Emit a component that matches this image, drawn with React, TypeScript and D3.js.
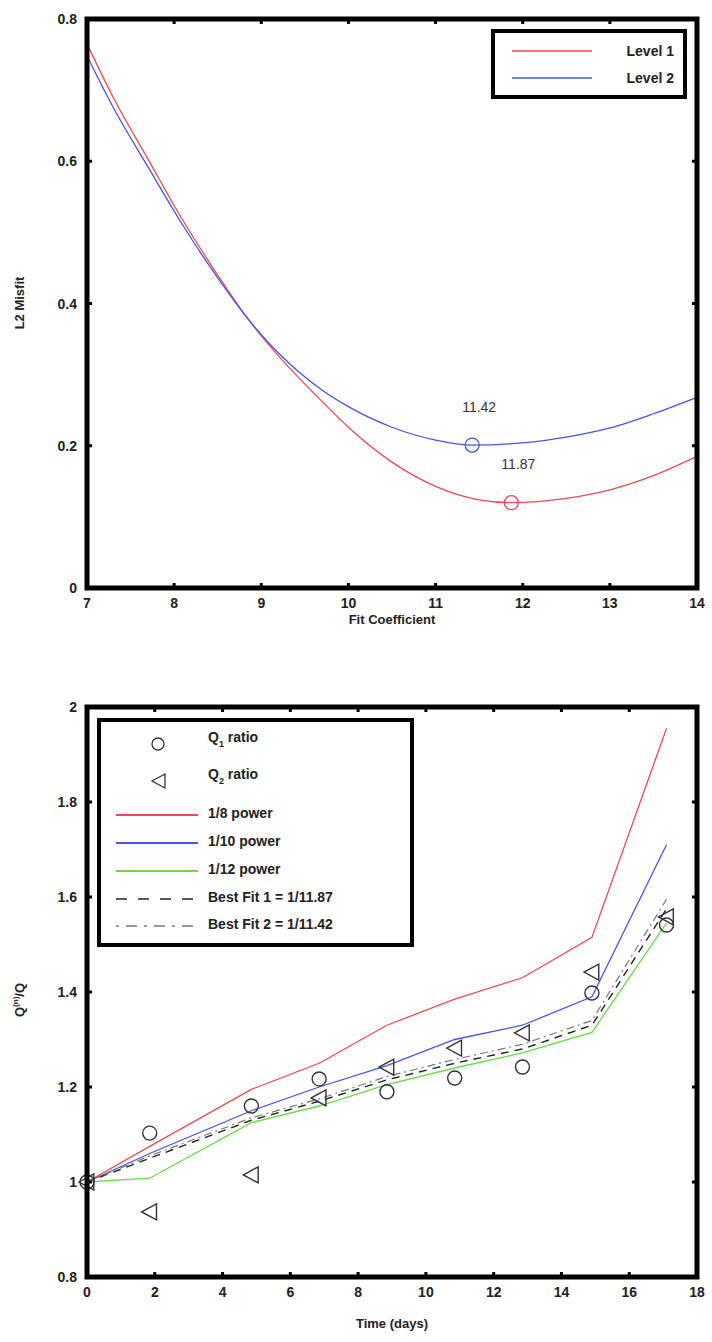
import React, { useEffect, useRef } from 'react';
import * as d3 from 'd3';

// ---- top chart data: L2 misfit vs fit coefficient ----
const coefLevel1 = [7, 7.3, 7.7, 8.1, 8.5, 8.85, 9.2, 9.7, 10, 10.5, 11, 11.5, 11.87, 12.5, 13, 13.5, 14];
const misfitLevel1 = [0.765, 0.69, 0.603, 0.517, 0.44, 0.378, 0.326, 0.262, 0.226, 0.177, 0.143, 0.124, 0.12, 0.126, 0.138, 0.158, 0.185];
const coefLevel2 = [7, 7.3, 7.7, 8.1, 8.5, 8.85, 9.2, 9.7, 10, 10.5, 11, 11.42, 12, 12.5, 13, 13.5, 14];
const misfitLevel2 = [0.748, 0.676, 0.592, 0.51, 0.436, 0.378, 0.33, 0.278, 0.255, 0.226, 0.208, 0.201, 0.204, 0.212, 0.225, 0.245, 0.268];
const minima = [
  { coef: 11.42, misfit: 0.201, label: '11.42', color: '#4455e8' },
  { coef: 11.87, misfit: 0.12, label: '11.87', color: '#ee4a4f' },
];
const topXTicks = [7, 8, 9, 10, 11, 12, 13, 14];
const topYTicks = [0, 0.2, 0.4, 0.6, 0.8];

// ---- bottom chart data: ratio vs time ----
const days = [0, 1.85, 4.85, 6.85, 8.85, 10.85, 12.85, 14.9, 17.1];
const q1Ratio = [1.0, 1.103, 1.16, 1.217, 1.19, 1.219, 1.242, 1.398, 1.541];
const q2Ratio = [1.0, 0.937, 1.015, 1.177, 1.242, 1.282, 1.314, 1.442, 1.558];
const power8 = [1.0, 1.075, 1.195, 1.25, 1.33, 1.385, 1.43, 1.515, 1.955];
const power10 = [1.0, 1.06, 1.15, 1.2, 1.245, 1.3, 1.33, 1.39, 1.71];
const power12 = [1.0, 1.008, 1.125, 1.16, 1.205, 1.24, 1.272, 1.315, 1.545];
const bestFit1 = [1.0, 1.05, 1.13, 1.17, 1.215, 1.25, 1.28, 1.33, 1.575];
const bestFit2 = [1.0, 1.055, 1.135, 1.175, 1.222, 1.258, 1.29, 1.34, 1.595];
const botXTicks = [0, 2, 4, 6, 8, 10, 12, 14, 16, 18];
const botYTicks = [0.8, 1, 1.2, 1.4, 1.6, 1.8, 2];

const RED = '#ee4a4f';
const BLUE = '#4455e8';
const GREEN = '#66dd44';
const FONT = '"Liberation Sans", Arial, sans-serif';

const App = () => {
  const svgRef = useRef<SVGSVGElement>(null);

  useEffect(() => {
    const svg = d3.select(svgRef.current);
    svg.selectAll('*').remove();

    const drawFrame = (g, x, y, xTicks, yTicks, fmtY) => {
      const [x0, x1] = x.range();
      const [y0, y1] = y.range();
      // tick marks (inside, all four sides)
      xTicks.forEach(t => {
        g.append('line').attr('x1', x(t)).attr('x2', x(t)).attr('y1', y0).attr('y2', y0 - 5)
          .attr('stroke', '#000').attr('stroke-width', 3);
        g.append('line').attr('x1', x(t)).attr('x2', x(t)).attr('y1', y1).attr('y2', y1 + 5)
          .attr('stroke', '#000').attr('stroke-width', 3);
        g.append('text').attr('x', x(t)).attr('y', y0 + 20).attr('text-anchor', 'middle')
          .attr('font-family', FONT).attr('font-weight', 'bold').attr('font-size', 14).attr('fill', '#222')
          .text(t);
      });
      yTicks.forEach(t => {
        g.append('line').attr('x1', x0).attr('x2', x0 + 5).attr('y1', y(t)).attr('y2', y(t))
          .attr('stroke', '#000').attr('stroke-width', 3);
        g.append('line').attr('x1', x1).attr('x2', x1 - 5).attr('y1', y(t)).attr('y2', y(t))
          .attr('stroke', '#000').attr('stroke-width', 3);
        g.append('text').attr('x', x0 - 10).attr('y', y(t) + 5).attr('text-anchor', 'end')
          .attr('font-family', FONT).attr('font-weight', 'bold').attr('font-size', 14).attr('fill', '#222')
          .text(fmtY(t));
      });
      g.append('rect').attr('x', x0).attr('y', y1).attr('width', x1 - x0).attr('height', y0 - y1)
        .attr('fill', 'none').attr('stroke', '#000').attr('stroke-width', 5);
    };

    // ================= TOP CHART =================
    const top = svg.append('g');
    const xT = d3.scaleLinear().domain([7, 14]).range([87, 697]);
    const yT = d3.scaleLinear().domain([0, 0.8]).range([588, 19]);
    const lineT = d3.line<number>().curve(d3.curveMonotoneX);

    top.append('path')
      .attr('d', lineT.x((d, i) => xT(coefLevel1[i])).y(d => yT(d))(misfitLevel1))
      .attr('fill', 'none').attr('stroke', RED).attr('stroke-width', 1.3);
    top.append('path')
      .attr('d', lineT.x((d, i) => xT(coefLevel2[i])).y(d => yT(d))(misfitLevel2))
      .attr('fill', 'none').attr('stroke', BLUE).attr('stroke-width', 1.3);

    minima.forEach(m => {
      top.append('ellipse').attr('cx', xT(m.coef)).attr('cy', yT(m.misfit)).attr('rx', 7).attr('ry', 7)
        .attr('fill', 'none').attr('stroke', m.color).attr('stroke-width', 1.3);
      top.append('text').attr('x', xT(m.coef + 0.08)).attr('y', yT(m.misfit + 0.047))
        .attr('text-anchor', 'middle').attr('font-family', FONT).attr('font-size', 14).attr('fill', '#333')
        .text(m.label);
    });

    drawFrame(top, xT, yT, topXTicks, topYTicks, t => (t === 0 ? '0' : t.toFixed(1)));

    top.append('text').attr('x', 392).attr('y', 624).attr('text-anchor', 'middle')
      .attr('font-family', FONT).attr('font-weight', 'bold').attr('font-size', 13).attr('fill', '#222')
      .text('Fit Coefficient');
    top.append('text').attr('transform', 'translate(24,303) rotate(-90)').attr('text-anchor', 'middle')
      .attr('font-family', FONT).attr('font-weight', 'bold').attr('font-size', 13).attr('fill', '#222')
      .text('L2 Misfit');

    // top legend
    const lgT = top.append('g');
    lgT.append('rect').attr('x', 493).attr('y', 31).attr('width', 192).attr('height', 66)
      .attr('fill', '#fff').attr('stroke', '#000').attr('stroke-width', 4);
    [{ label: 'Level 1', color: RED, y: 51 }, { label: 'Level 2', color: BLUE, y: 78 }].forEach(e => {
      lgT.append('line').attr('x1', 512).attr('x2', 592).attr('y1', e.y).attr('y2', e.y)
        .attr('stroke', e.color).attr('stroke-width', 1.5);
      lgT.append('text').attr('x', 674).attr('y', e.y + 5).attr('text-anchor', 'end')
        .attr('font-family', FONT).attr('font-weight', 'bold').attr('font-size', 14).attr('fill', '#222')
        .text(e.label);
    });

    // ================= BOTTOM CHART =================
    const bot = svg.append('g');
    const xB = d3.scaleLinear().domain([0, 18]).range([87, 697]);
    const yB = d3.scaleLinear().domain([0.8, 2]).range([1277, 707]);
    const lineB = d3.line<number>().x((d, i) => xB(days[i])).y(d => yB(d));

    const series = [
      { vals: power8, color: RED, dash: null, w: 1.3 },
      { vals: power10, color: BLUE, dash: null, w: 1.3 },
      { vals: power12, color: GREEN, dash: null, w: 1.3 },
      { vals: bestFit1, color: '#222', dash: '8,6', w: 1.4 },
      { vals: bestFit2, color: '#777', dash: '8,4,2,4', w: 1.2 },
    ];
    series.forEach(s => {
      const p = bot.append('path').attr('d', lineB(s.vals))
        .attr('fill', 'none').attr('stroke', s.color).attr('stroke-width', s.w);
      if (s.dash) p.attr('stroke-dasharray', s.dash);
    });

    const tri = (cx, cy, s = 8) => `M${cx - s},${cy} L${cx + s * 0.85},${cy - s} L${cx + s * 0.85},${cy + s} Z`;

    q1Ratio.forEach((v, i) => {
      bot.append('circle').attr('cx', xB(days[i])).attr('cy', yB(v)).attr('r', 7)
        .attr('fill', 'none').attr('stroke', '#333').attr('stroke-width', 1.4);
    });
    q2Ratio.forEach((v, i) => {
      bot.append('path').attr('d', tri(xB(days[i]), yB(v)))
        .attr('fill', 'none').attr('stroke', '#333').attr('stroke-width', 1.4);
    });

    drawFrame(bot, xB, yB, botXTicks, botYTicks, t => (Number.isInteger(t) ? String(t) : t.toFixed(1)));

    bot.append('text').attr('x', 392).attr('y', 1328).attr('text-anchor', 'middle')
      .attr('font-family', FONT).attr('font-weight', 'bold').attr('font-size', 13).attr('fill', '#222')
      .text('Time (days)');
    const yl = bot.append('text').attr('transform', 'translate(24,1000) rotate(-90)').attr('text-anchor', 'middle')
      .attr('font-family', FONT).attr('font-weight', 'bold').attr('font-size', 13).attr('fill', '#222');
    yl.append('tspan').text('Q');
    yl.append('tspan').attr('dy', -6).attr('font-size', 8).text('(n)');
    yl.append('tspan').attr('dy', 6).text('/Q');

    // bottom legend
    const lgB = bot.append('g');
    lgB.append('rect').attr('x', 99).attr('y', 720).attr('width', 313).attr('height', 225)
      .attr('fill', '#fff').attr('stroke', '#000').attr('stroke-width', 4);
    const tx = 208;
    const addLabel = (y, main, sub, rest) => {
      const t = lgB.append('text').attr('x', tx).attr('y', y + 5)
        .attr('font-family', FONT).attr('font-weight', 'bold').attr('font-size', 14).attr('fill', '#222');
      t.append('tspan').text(main);
      if (sub) {
        t.append('tspan').attr('dy', 5).attr('font-size', 9).text(sub);
        t.append('tspan').attr('dy', -5).text(rest);
      }
    };
    lgB.append('circle').attr('cx', 158).attr('cy', 744).attr('r', 6)
      .attr('fill', 'none').attr('stroke', '#333').attr('stroke-width', 1.3);
    addLabel(737, 'Q', '1', ' ratio');
    lgB.append('path').attr('d', tri(159, 781, 7))
      .attr('fill', 'none').attr('stroke', '#333').attr('stroke-width', 1.3);
    addLabel(774, 'Q', '2', ' ratio');
    const lineEntries = [
      { label: '1/8 power', s: series[0], y: 815 },
      { label: '1/10 power', s: series[1], y: 843 },
      { label: '1/12 power', s: series[2], y: 871 },
      { label: 'Best Fit 1 = 1/11.87', s: series[3], y: 899 },
      { label: 'Best Fit 2 = 1/11.42', s: series[4], y: 926 },
    ];
    lineEntries.forEach(e => {
      const l = lgB.append('line').attr('x1', 116).attr('x2', 198).attr('y1', e.y).attr('y2', e.y)
        .attr('stroke', e.s.color).attr('stroke-width', e.s.dash ? 1.4 : 1.8);
      if (e.s.dash) l.attr('stroke-dasharray', e.s.dash === '8,6' ? '11,11' : '3,7,11,7');
      addLabel(e.y - 2, e.label, null, null);
    });
  }, []);

  return (
    <svg ref={svgRef} width={712} height={1342}
      style={{ position: 'absolute', left: 0, top: 0, background: '#fff' }} />
  );
};

export default App;
